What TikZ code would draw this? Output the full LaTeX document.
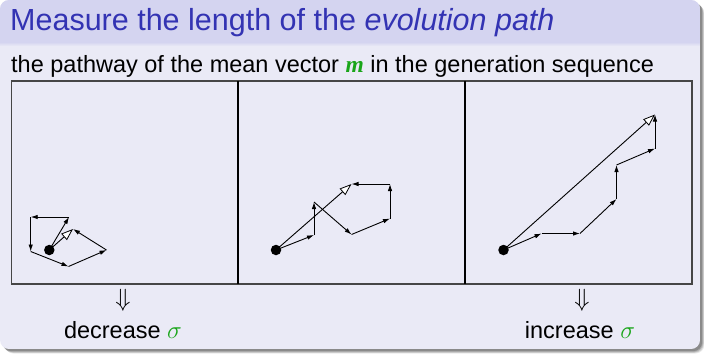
\documentclass[tikz,border=0pt]{standalone}
\usepackage{fontspec}
\setmainfont{Liberation Sans}
\newfontfamily\serifbi{Liberation Serif}
\usepackage{amsmath}
\usetikzlibrary{arrows.meta}
\definecolor{titlefg}{RGB}{51,51,179}
\definecolor{titlebg}{RGB}{212,212,240}
\definecolor{bodybg}{RGB}{234,234,246}
\definecolor{exgreen}{RGB}{25,165,25}
\definecolor{gridline}{RGB}{70,70,70}
\tikzset{
  pt/.style={inner sep=0pt, outer sep=0pt, minimum size=0pt},
  dotnode/.style={circle, fill=black, inner sep=0pt, minimum size=10.5pt},
  stepvec/.style={line width=0.9pt, -{Latex[length=7pt,width=4.5pt]}},
  sumvec/.style={line width=0.9pt, -{Triangle[fill=white,length=12pt,width=8.5pt,line width=0.8pt]}},
  txt/.style={inner sep=0pt, anchor=base, font=\fontsize{23.5}{26}\selectfont},
}
\begin{document}
\begin{tikzpicture}[x=1pt,y=-1pt]
\useasboundingbox (0,0) rectangle (704,354);
% shadow
\foreach \o/\op in {4.5/0.08,3.8/0.12,3/0.16,2.2/0.2}{
  \fill[black, opacity=\op, rounded corners=9pt] ({\o},{\o}) rectangle ({700+\o},{349+\o});
}
% block
\begin{scope}
  \clip[rounded corners=9pt] (0,0) rectangle (700,349);
  \fill[bodybg] (0,0) rectangle (700,349);
  \fill[titlebg] (0,0) rectangle (700,42);
  \shade[top color=titlebg, bottom color=bodybg] (0,42) rectangle (700,46);
\end{scope}
% title and subtitle
\node[inner sep=0pt, anchor=base west, text=titlefg, font=\fontsize{30.5}{34}\selectfont] (title) at (10,30) {Measure the length of the \emph{evolution path}};
\node[txt, anchor=base west] (sub) at (11,72.5) {the pathway of the mean vector {\color{exgreen}\serifbi\bfseries\itshape m} in the generation sequence};
% table
\draw[gridline, line width=1.2pt] (11.5,81) rectangle (692,284);
\draw[black, line width=1.1pt] (238,81) -- (238,284);
\draw[black, line width=1.1pt] (465,81) -- (465,284);
% panel 1
\node[dotnode] (d1) at (49.3,250) {};
\node[pt] (a1) at (69,217) {};
\node[pt] (a2) at (30.7,217) {};
\node[pt] (a3) at (30.7,251.5) {};
\node[pt] (a4) at (68.5,266.5) {};
\node[pt] (a5) at (106.5,250) {};
\node[pt] (a6) at (73,229) {};
\draw[stepvec] (d1.center) -- (a1);
\draw[stepvec] (a1) -- (a2);
\draw[stepvec] (a2) -- (a3);
\draw[stepvec] (a3) -- (a4);
\draw[stepvec] (a4) -- (a5);
\draw[stepvec] (a5) -- (a6);
\draw[sumvec] (d1.center) -- (a6);
% panel 2
\node[dotnode] (d2) at (276,250) {};
\node[pt] (b1) at (314,235) {};
\node[pt] (b2) at (314,202) {};
\node[pt] (b3) at (351.5,234.5) {};
\node[pt] (b4) at (390,218.5) {};
\node[pt] (b5) at (390,184) {};
\node[pt] (b6) at (351.5,184) {};
\draw[stepvec] (d2.center) -- (b1);
\draw[stepvec] (b1) -- (b2);
\draw[stepvec] (b2) -- (b3);
\draw[stepvec] (b3) -- (b4);
\draw[stepvec] (b4) -- (b5);
\draw[stepvec] (b5) -- (b6);
\draw[sumvec] (d2.center) -- (b6);
% panel 3
\node[dotnode] (d3) at (503.5,250) {};
\node[pt] (c1) at (541.5,233.5) {};
\node[pt] (c2) at (580,233.5) {};
\node[pt] (c3) at (616.5,199) {};
\node[pt] (c4) at (616.5,165) {};
\node[pt] (c5) at (655,148.5) {};
\node[pt] (c6) at (655,114.5) {};
\draw[stepvec] (d3.center) -- (c1);
\draw[stepvec] (c1) -- (c2);
\draw[stepvec] (c2) -- (c3);
\draw[stepvec] (c3) -- (c4);
\draw[stepvec] (c4) -- (c5);
\draw[stepvec] (c5) -- (c6);
\draw[sumvec] (d3.center) -- (c6);
% bottom labels
\node[inner sep=0pt, font=\fontsize{23.5}{26}\selectfont] (down1) at (123,300) {$\Downarrow$};
\node[txt] (dec) at (123,338) {decrease $\color{exgreen}\sigma$};
\node[inner sep=0pt, font=\fontsize{23.5}{26}\selectfont] (down2) at (582,300) {$\Downarrow$};
\node[txt] (inc) at (580,338) {increase $\color{exgreen}\sigma$};
\end{tikzpicture}
\end{document}
